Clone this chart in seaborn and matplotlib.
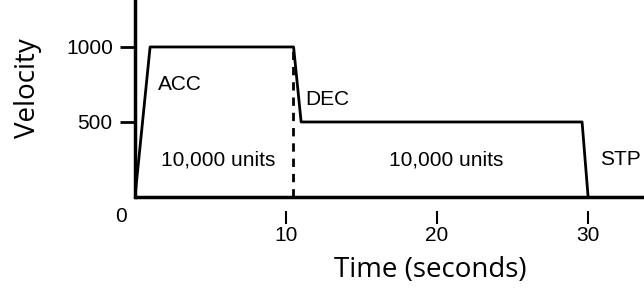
import numpy as np
import pandas as pd
import matplotlib
matplotlib.use("Agg")
import matplotlib.pyplot as plt
import seaborn as sns

# velocity profile corners
time_s = [0.0, 1.0, 10.5, 11.0, 29.6, 30.0]
velocity = [0, 1000, 1000, 500, 500, 0]
split_time = 10.45
x_ticks = [10, 20, 30]
y_ticks = [500, 1000]

sns.set_style("ticks")
plt.rcParams["font.family"] = ["Liberation Sans", "DejaVu Sans"]
plt.rcParams.update({"text.color": "black", "axes.labelcolor": "black",
                     "xtick.color": "black", "ytick.color": "black",
                     "axes.edgecolor": "black"})

fig = plt.figure(figsize=(6.44, 2.9), dpi=100)
ax = fig.add_axes([0.2096, 0.3207, 0.7904, 0.6793])

df = pd.DataFrame({"t": time_s, "v": velocity})
sns.lineplot(data=df, x="t", y="v", color="black", linewidth=2, ax=ax, sort=False)
ax.plot([split_time, split_time], [0, 1000], color="black", linewidth=2, linestyle=(0, (3, 2.5)))
ax.axhline(0, color="black", linewidth=2.5, clip_on=False)

ax.set_xlim(0, 33.7)
ax.set_ylim(0, 1313)
sns.despine(ax=ax)
ax.spines["left"].set_linewidth(2.5)
ax.spines["bottom"].set_visible(False)
ax.spines["bottom"].set_position(("outward", 10))

ax.set_xticks(x_ticks)
ax.set_yticks(y_ticks)
ax.tick_params(axis="x", length=9, width=1.5, pad=2, labelsize=15)
ax.tick_params(axis="y", length=11, width=2, pad=5, labelsize=15)
ax.annotate("0", xy=(0, 0), xytext=(-5.8, -7), textcoords="offset points",
            ha="right", va="top", fontsize=15)

ax.set_xlabel("")
ax.set_ylabel("")
fig.text(0.668, 0.07, "Time (seconds)", fontsize=20, ha="center", va="center",
         family=["Open Sans", "DejaVu Sans"])
fig.text(0.043, 0.695, "Velocity", fontsize=20, ha="center", va="center",
         rotation=90, family=["Open Sans", "DejaVu Sans"])

ax.text(1.5, 747, "ACC", fontsize=15, ha="left", va="center")
ax.text(5.5, 247, "10,000 units", fontsize=15, ha="center", va="center")
ax.text(11.3, 647, "DEC", fontsize=15, ha="left", va="center")
ax.text(20.6, 247, "10,000 units", fontsize=15, ha="center", va="center")
ax.text(30.8, 247, "STP", fontsize=15, ha="left", va="center")

fig.savefig("out.png", dpi=100)
